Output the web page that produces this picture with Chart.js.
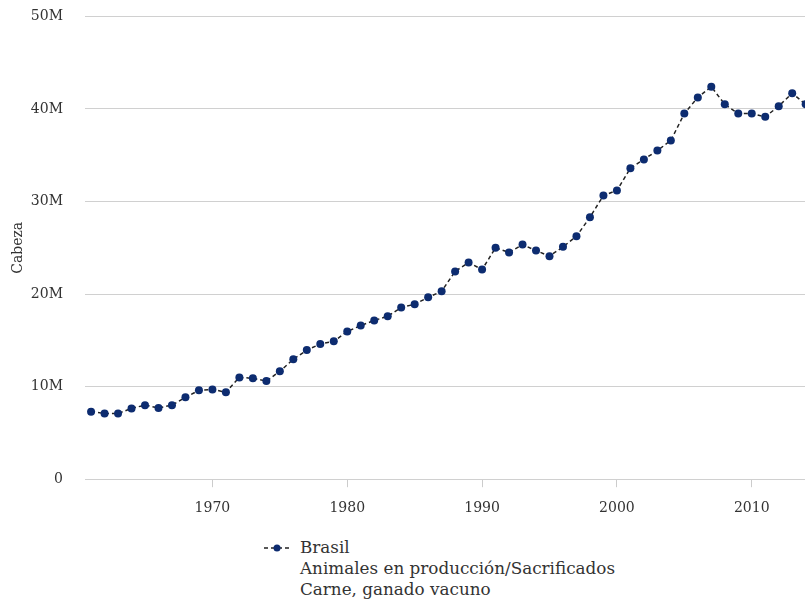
<!DOCTYPE html>
<html>
<head>
<meta charset="utf-8">
<script src="https://cdn.jsdelivr.net/npm/chart.js@4"></script>
<style>
  html, body { margin: 0; padding: 0; background: #fff; }
  #wrap { position: relative; width: 805px; height: 601px; overflow: hidden; }
  #chart { position: absolute; left: 0; top: -14px; }
  #legend {
    position: absolute; left: 262px; top: 537px;
    font-family: "DejaVu Serif", serif; font-size: 16.8px; color: #333; line-height: 21px;
  }
  #legend .sw { position: absolute; left: 0; top: 4px; }
  #legend .txt { margin-left: 38px; }
</style>
</head>
<body>
<div id="wrap">
  <canvas id="chart" width="805" height="544"></canvas>
  <div id="legend">
    <canvas class="sw" width="30" height="14"></canvas>
    <div class="txt" id="legend-text"></div>
  </div>
</div>
<script>
// data
const years = [1961, 1962, 1963, 1964, 1965, 1966, 1967, 1968, 1969, 1970,
  1971, 1972, 1973, 1974, 1975, 1976, 1977, 1978, 1979, 1980,
  1981, 1982, 1983, 1984, 1985, 1986, 1987, 1988, 1989, 1990,
  1991, 1992, 1993, 1994, 1995, 1996, 1997, 1998, 1999, 2000,
  2001, 2002, 2003, 2004, 2005, 2006, 2007, 2008, 2009, 2010,
  2011, 2012, 2013, 2014];
const heads = [7.3, 7.1, 7.1, 7.65, 8.0, 7.7, 8.0, 8.85, 9.6, 9.7,
  9.4, 11.0, 10.9, 10.6, 11.65, 12.95, 13.95, 14.6, 14.9, 15.95,
  16.6, 17.15, 17.6, 18.55, 18.9, 19.65, 20.3, 22.45, 23.4, 22.65,
  25.0, 24.5, 25.35, 24.7, 24.1, 25.1, 26.25, 28.3, 30.65, 31.2,
  33.6, 34.55, 35.5, 36.6, 39.5, 41.25, 42.4, 40.5, 39.5, 39.5,
  39.15, 40.3, 41.7, 40.5].map((v) => v * 1e6);
const xTickYears = [1970, 1980, 1990, 2000, 2010];
const yTicks = [0, 10e6, 20e6, 30e6, 40e6, 50e6];
const legendLines = ["Brasil", "Animales en producción/Sacrificados", "Carne, ganado vacuno"];

const FONT = "'DejaVu Serif', serif";
const TXT = "#333";
const DOT = "#0d2c70";

/* ---------- LEGEND ---------- */
document.getElementById("legend-text").innerHTML = legendLines.join("<br>");
const sw = document.querySelector("#legend .sw").getContext("2d");
sw.strokeStyle = "#222";
sw.lineWidth = 1.5;
sw.setLineDash([4, 3]);
sw.beginPath(); sw.moveTo(2, 7); sw.lineTo(28, 7); sw.stroke();
sw.fillStyle = DOT;
sw.beginPath(); sw.arc(15, 7, 3.5, 0, Math.PI * 2); sw.fill();

/* ---------- CHART ---------- */
new Chart(document.getElementById("chart").getContext("2d"), {
  type: "line",
  data: {
    datasets: [{
      label: legendLines[0],
      data: years.map((y, i) => ({ x: y, y: heads[i] })),
      borderColor: "#222",
      borderWidth: 1.5,
      borderDash: [4, 3],
      pointBackgroundColor: DOT,
      pointBorderColor: DOT,
      pointRadius: 4,
      pointBorderWidth: 0,
      tension: 0,
      fill: false,
    }],
  },
  options: {
    responsive: false,
    animation: false,
    layout: { autoPadding: false, padding: 0 },
    plugins: { legend: { display: false }, tooltip: { enabled: false } },
    scales: {
      x: {
        type: "linear",
        min: 1960.55,
        max: 2013.95,
        afterBuildTicks: (s) => { s.ticks = xTickYears.map((v) => ({ value: v })); },
        ticks: {
          font: { family: FONT, size: 14 }, color: TXT, padding: 13,
          callback: (v) => String(v),
        },
        grid: { drawOnChartArea: false, drawTicks: true, tickLength: 8, color: "#ccc" },
        border: { display: false },
      },
      y: {
        min: 0,
        max: 50e6,
        afterBuildTicks: (s) => { s.ticks = yTicks.map((v) => ({ value: v })); },
        afterFit: (s) => { s.width = 85; },
        ticks: {
          font: { family: FONT, size: 14 }, color: TXT, padding: 22,
          callback: (v) => (v === 0 ? "0" : v / 1e6 + "M"),
        },
        grid: { color: "#d0d0d0", drawTicks: false, lineWidth: 1 },
        border: { display: false },
        title: {
          display: true, text: "Cabeza", color: TXT,
          font: { family: FONT, size: 14 }, padding: { top: 10, bottom: 0 },
        },
      },
    },
  },
});
</script>
</body>
</html>
